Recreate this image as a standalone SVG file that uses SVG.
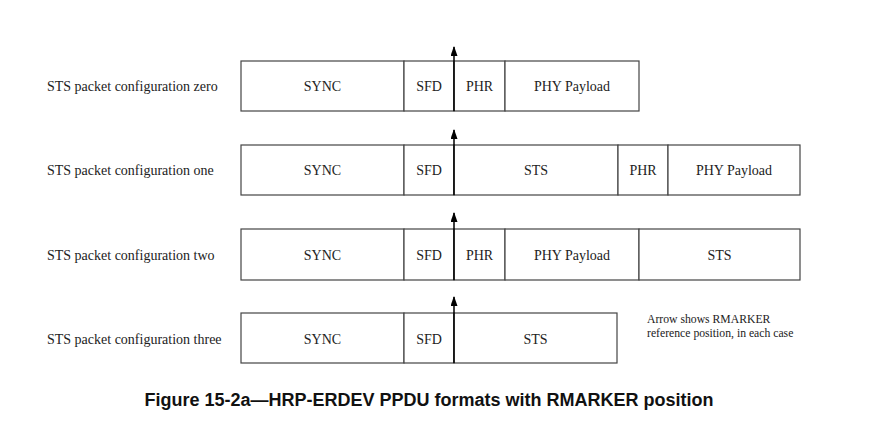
<svg xmlns="http://www.w3.org/2000/svg" width="877" height="429" viewBox="0 0 877 429">
<style>
.box{fill:#fff;stroke:#444;stroke-width:1.2}
.t{font-family:"Liberation Serif",serif;font-size:14px;fill:#222}
.c{text-anchor:middle}
.n{font-family:"Liberation Serif",serif;font-size:11.7px;fill:#222}
.cap{font-family:"Liberation Sans",Arial,sans-serif;font-size:18px;font-weight:bold;fill:#111;text-anchor:middle}
.arr{stroke:#000;stroke-width:1.5;fill:none;marker-end:url(#ah)}
</style>
<defs>
<marker id="ah" viewBox="0 0 10 7" refX="9" refY="3.5" markerWidth="10" markerHeight="7" markerUnits="userSpaceOnUse" orient="auto">
<path d="M0,0 L10,3.5 L0,7 Z" fill="#000"/>
</marker>
</defs>
<rect width="877" height="429" fill="#fff"/>
<g id="row0">
<text class="t" x="47" y="91">STS packet configuration zero</text>
<rect class="box" x="241" y="61" width="163" height="50"/>
<rect class="box" x="404" y="61" width="50" height="50"/>
<rect class="box" x="454" y="61" width="51" height="50"/>
<rect class="box" x="505" y="61" width="134" height="50"/>
<text class="t c" x="322.5" y="91">SYNC</text>
<text class="t c" x="429" y="91">SFD</text>
<text class="t c" x="479.5" y="91">PHR</text>
<text class="t c" x="572" y="91">PHY Payload</text>
</g>
<g id="row1">
<text class="t" x="47" y="175">STS packet configuration one</text>
<rect class="box" x="241" y="145" width="163" height="50"/>
<rect class="box" x="404" y="145" width="50" height="50"/>
<rect class="box" x="454" y="145" width="164" height="50"/>
<rect class="box" x="618" y="145" width="50" height="50"/>
<rect class="box" x="668" y="145" width="132" height="50"/>
<text class="t c" x="322.5" y="175">SYNC</text>
<text class="t c" x="429" y="175">SFD</text>
<text class="t c" x="536" y="175">STS</text>
<text class="t c" x="643" y="175">PHR</text>
<text class="t c" x="734" y="175">PHY Payload</text>
</g>
<g id="row2">
<text class="t" x="47" y="260">STS packet configuration two</text>
<rect class="box" x="241" y="229" width="163" height="51"/>
<rect class="box" x="404" y="229" width="50" height="51"/>
<rect class="box" x="454" y="229" width="51" height="51"/>
<rect class="box" x="505" y="229" width="134" height="51"/>
<rect class="box" x="639" y="229" width="161" height="51"/>
<text class="t c" x="322.5" y="260">SYNC</text>
<text class="t c" x="429" y="260">SFD</text>
<text class="t c" x="479.5" y="260">PHR</text>
<text class="t c" x="572" y="260">PHY Payload</text>
<text class="t c" x="719.5" y="260">STS</text>
</g>
<g id="row3">
<text class="t" x="47" y="344">STS packet configuration three</text>
<rect class="box" x="241" y="313" width="163" height="50"/>
<rect class="box" x="404" y="313" width="50" height="50"/>
<rect class="box" x="454" y="313" width="163" height="50"/>
<text class="t c" x="322.5" y="344">SYNC</text>
<text class="t c" x="429" y="344">SFD</text>
<text class="t c" x="535.5" y="344">STS</text>
</g>
<g id="connectors">
<line class="arr" x1="454" y1="111" x2="454" y2="47"/>
<line class="arr" x1="454" y1="195" x2="454" y2="130"/>
<line class="arr" x1="454" y1="280" x2="454" y2="213"/>
<line class="arr" x1="454" y1="363" x2="454" y2="297"/>
</g>
<g id="note">
<text class="n" x="647" y="323">Arrow shows RMARKER</text>
<text class="n" x="647" y="337">reference position, in each case</text>
</g>
<text class="cap" x="429" y="406">Figure 15-2a—HRP-ERDEV PPDU formats with RMARKER position</text>
</svg>
